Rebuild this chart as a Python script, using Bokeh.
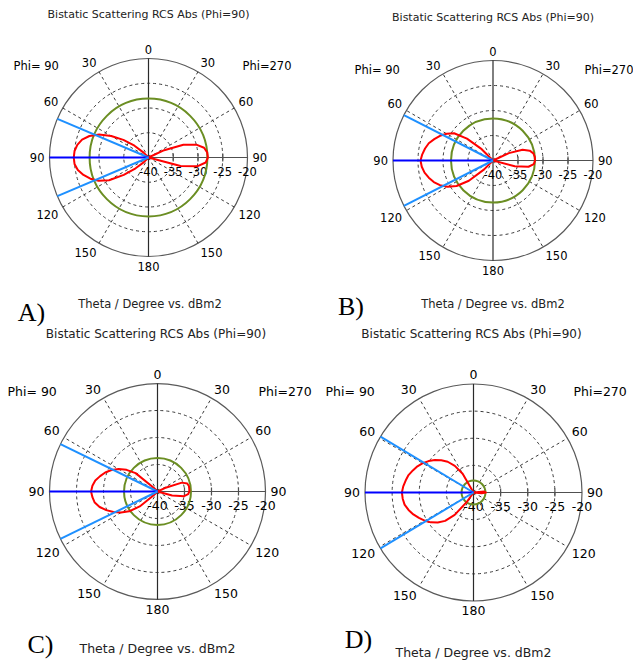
import math
from bokeh.plotting import figure
from bokeh.layouts import gridplot
from bokeh.models import Range1d
from bokeh.core.properties import value
from bokeh.embed import file_html
from bokeh.resources import INLINE

# ---------------- data ----------------
THETA = [0, 5, 10, 15, 20, 25, 30, 35, 40, 45, 50, 55, 60, 65, 70, 75, 80, 85, 90,
         95, 100, 105, 110, 115, 120, 125, 130, 135, 140, 145, 150, 155, 160, 165, 170, 175, 180]

A_PHI90 = [-50, -50, -50, -50, -50, -50, -50, -50, -50, -38.6, -36.3, -33.8, -31.3, -29.0, -27.3,
           -26.1, -25.4, -25.0, -24.9, -25.0, -25.5, -26.4, -27.5, -28.9, -30.8, -33.9, -36.6, -38.6,
           -50, -50, -50, -50, -50, -50, -50, -50, -50]
A_PHI270 = [-50, -50, -50, -50, -50, -50, -50, -50, -50, -50, -50, -50, -50, -36.5, -32.5, -30.0,
            -28.6, -28.1, -28.0, -28.4, -29.9, -33.3, -50, -50, -50, -50, -50, -50, -50, -50, -50,
            -50, -50, -50, -50, -50, -50]
B_PHI90 = [-50, -50, -50, -50, -50, -50, -50, -50, -50, -36.8, -33.2, -30.5, -29.3, -28.3, -27.5,
           -26.7, -26.2, -25.8, -25.5, -25.7, -26.1, -26.7, -27.4, -28.3, -29.5, -31.1, -33.7, -37.5,
           -50, -50, -50, -50, -50, -50, -50, -50, -50]
B_PHI270 = [-50, -50, -50, -50, -50, -50, -50, -50, -50, -50, -50, -50, -50, -36.5, -33.7, -32.4,
            -31.8, -31.6, -31.6, -31.8, -32.8, -35.5, -50, -50, -50, -50, -50, -50, -50, -50, -50,
            -50, -50, -50, -50, -50, -50]
C_PHI90 = [-50, -50, -50, -50, -50, -50, -50, -50, -50, -39.0, -34.7, -33.0, -31.7, -30.6, -29.7,
           -29.0, -28.3, -27.9, -27.7, -27.9, -28.2, -28.9, -29.9, -31.0, -32.2, -33.6, -35.7, -39.0,
           -50, -50, -50, -50, -50, -50, -50, -50, -50]
C_PHI270 = [-50, -50, -50, -50, -50, -50, -50, -50, -50, -50, -50, -50, -50, -38.5, -35.2, -34.3,
            -34.1, -34.1, -34.1, -34.3, -35.0, -37.2, -50, -50, -50, -50, -50, -50, -50, -50, -50,
            -50, -50, -50, -50, -50, -50]
D_PHI90 = [-50, -50, -50, -50, -50, -50, -36.0, -34.0, -32.6, -31.6, -30.7, -29.9, -29.2, -28.6,
           -28.1, -27.6, -27.3, -27.0, -26.8, -26.9, -27.1, -27.6, -28.2, -28.9, -29.6, -30.4, -31.4,
           -32.6, -34.6, -38.0, -50, -50, -50, -50, -50, -50, -50]
D_PHI270 = [-50, -50, -50, -50, -50, -50, -50, -50, -50, -50, -50, -50, -50, -50, -50, -50, -50,
            -38.0, -37.7, -38.5, -50, -50, -50, -50, -50, -50, -50, -50, -50, -50, -50, -50, -50,
            -50, -50, -50, -50]

GREEN_LEVEL = {"A": -28.1, "B": -31.6, "C": -33.8, "D": -37.8}
BLUE_THETA = {"A": [67, 90, 113], "B": [63, 90, 117], "C": [64, 90, 116], "D": [59, 90, 121]}

RADIAL_TICKS = [-40, -35, -30, -25, -20]
ANGLE_TICKS = [0, 30, 60, 90, 120, 150, 180]
SPOKES = [30, 60, 120, 150]
R_MIN, R_MAX = -40, -20

TITLE = "Bistatic Scattering RCS Abs (Phi=90)"
XLABEL = "Theta / Degree vs. dBm2"

SANS = value("DejaVu Sans")
SERIF = value("Liberation Serif")

# ---------------- layout (image pixel geometry) ----------------
PANELS = [
    dict(key="A", left=0, top=0, W=316, H=326, cx=148, cy=157, R=99, fs=11, fs2=11.5,
         title=(148, 13.5), xlabel=(149.5, 303), letter=(31, 312), phi90=(13, 65), phi270=(242, 65)),
    dict(key="B", left=316, top=0, W=317, H=326, cx=492.5, cy=160, R=100, fs=11, fs2=11.5,
         title=(492.5, 17), xlabel=(492.5, 303), letter=(350.5, 306), phi90=(354, 69), phi270=(584, 69)),
    dict(key="C", left=0, top=326, W=316, H=334, cx=157, cy=491, R=108, fs=12, fs2=12.5,
         title=(155.5, 333.5), xlabel=(157, 648), letter=(40, 644), phi90=(7, 391), phi270=(258, 391)),
    dict(key="D", left=316, top=326, W=317, H=334, cx=473, cy=492, R=108.5, fs=12, fs2=12.5,
         title=(471, 333.5), xlabel=(473, 652), letter=(358, 639), phi90=(325, 391), phi270=(573, 391)),
]
SERIES = {"A": (A_PHI90, A_PHI270), "B": (B_PHI90, B_PHI270),
          "C": (C_PHI90, C_PHI270), "D": (D_PHI90, D_PHI270)}


def polar(theta, val, side):
    r = max(val - R_MIN, 0.0)
    t = math.radians(theta)
    return side * r * math.sin(t), r * math.cos(t)


def make_panel(cfg):
    k = cfg["R"] / (R_MAX - R_MIN)  # px per dB
    cx, cy = cfg["cx"], cfg["cy"]
    left, top, W, H = cfg["left"], cfg["top"], cfg["W"], cfg["H"]

    def D(px, py):
        return (px - cx) / k, (cy - py) / k

    p = figure(width=W, height=H, output_backend="svg", toolbar_location=None,
               x_range=Range1d((left - cx) / k, (left + W - cx) / k),
               y_range=Range1d((cy - (top + H)) / k, (cy - top) / k),
               min_border=0, x_axis_type=None, y_axis_type=None,
               background_fill_color="white", border_fill_color="white")
    p.outline_line_color = None
    p.grid.visible = False

    span = R_MAX - R_MIN
    fs = cfg["fs"]

    # rings
    inner = [t - R_MIN for t in RADIAL_TICKS[1:-1]]
    p.circle(x=[0] * len(inner), y=[0] * len(inner), radius=inner, fill_color=None,
             line_color="#3a3a3a", line_width=1, line_dash="3 3")
    p.circle(x=[0], y=[0], radius=[span], fill_color=None, line_color="#5a5a5a", line_width=1.2)

    # spokes
    x0, y0, x1, y1 = [], [], [], []
    for side in (-1, 1):
        for a in SPOKES:
            ex, ey = polar(a, R_MAX, side)
            x0.append(0); y0.append(0); x1.append(ex); y1.append(ey)
    p.segment(x0=x0, y0=y0, x1=x1, y1=y1, line_color="#3a3a3a", line_width=1, line_dash="3 3")

    # axes
    p.segment(x0=[0], y0=[span], x1=[0], y1=[-span], line_color="#2a2a2a", line_width=1.2)
    p.segment(x0=[-span], y0=[0], x1=[span], y1=[0], line_color="#505050", line_width=1.2)
    tk = [t - R_MIN for t in RADIAL_TICKS[1:-1]]
    p.segment(x0=tk, y0=[-4 / k] * len(tk), x1=tk, y1=[4 / k] * len(tk),
              line_color="#505050", line_width=1.2)

    # radial labels
    p.text(x=[t - R_MIN for t in RADIAL_TICKS], y=[-14 / k] * len(RADIAL_TICKS),
           text=[str(t) for t in RADIAL_TICKS], text_font=SANS, text_font_size=f"{fs + 0.5}px",
           text_align="center", text_baseline="middle", text_color="black")

    # angle labels
    ra = span + 5 / k
    for side in (-1, 1):
        for a in ANGLE_TICKS:
            if side == 1 and a in (0, 180):
                continue
            x, y = polar(a, ra + R_MIN, side)
            if a in (0, 180):
                align = "center"
            else:
                align = "right" if side == -1 else "left"
            if a < 90:
                base = "bottom"
            elif a > 90:
                base = "top"
            else:
                base = "middle"
            p.text(x=[x], y=[y], text=[str(a)], text_font=SANS, text_font_size=f"{fs + 0.5}px",
                   text_align=align, text_baseline=base, text_color="black")

    key = cfg["key"]
    # green reference circle
    g = GREEN_LEVEL[key] - R_MIN
    p.circle(x=[0], y=[0], radius=[g], fill_color=None, line_color="#6b8e23", line_width=2)

    # red RCS curve
    v90, v270 = SERIES[key]
    xs, ys = [], []
    for th, v in zip(THETA, v90):
        x, y = polar(th, v, -1)
        xs.append(x); ys.append(y)
    for th, v in zip(THETA[::-1], v270[::-1]):
        x, y = polar(th, v, 1)
        xs.append(x); ys.append(y)
    p.line(xs, ys, line_color="#ff0000", line_width=2, line_join="round")

    # blue incidence lines
    for a in BLUE_THETA[key]:
        ex, ey = polar(a, R_MAX, -1)
        col = "#0000ff" if a == 90 else "#1e90ff"
        p.segment(x0=[0], y0=[0], x1=[ex], y1=[ey], line_color=col, line_width=2)

    # texts
    tx, ty = D(*cfg["title"])
    p.text(x=[tx], y=[ty], text=[TITLE], text_font=SANS, text_font_size=f"{fs}px",
           text_align="center", text_baseline="middle", text_color="#222222")
    tx, ty = D(*cfg["xlabel"])
    p.text(x=[tx], y=[ty], text=[XLABEL], text_font=SANS, text_font_size=f"{cfg['fs2']}px",
           text_align="center", text_baseline="middle", text_color="#222222")
    tx, ty = D(*cfg["phi90"])
    p.text(x=[tx], y=[ty], text=["Phi= 90"], text_font=SANS, text_font_size=f"{fs + 0.5}px",
           text_align="left", text_baseline="middle", text_color="black")
    tx, ty = D(*cfg["phi270"])
    p.text(x=[tx], y=[ty], text=["Phi=270"], text_font=SANS, text_font_size=f"{fs + 0.5}px",
           text_align="left", text_baseline="middle", text_color="black")
    tx, ty = D(*cfg["letter"])
    p.text(x=[tx], y=[ty], text=[key + ")"], text_font=SERIF, text_font_size="26px",
           text_align="center", text_baseline="middle", text_color="black")
    return p


plots = [make_panel(c) for c in PANELS]
grid = gridplot([[plots[0], plots[1]], [plots[2], plots[3]]], toolbar_location=None)

open("out.html", "w").write(file_html(grid, INLINE))
